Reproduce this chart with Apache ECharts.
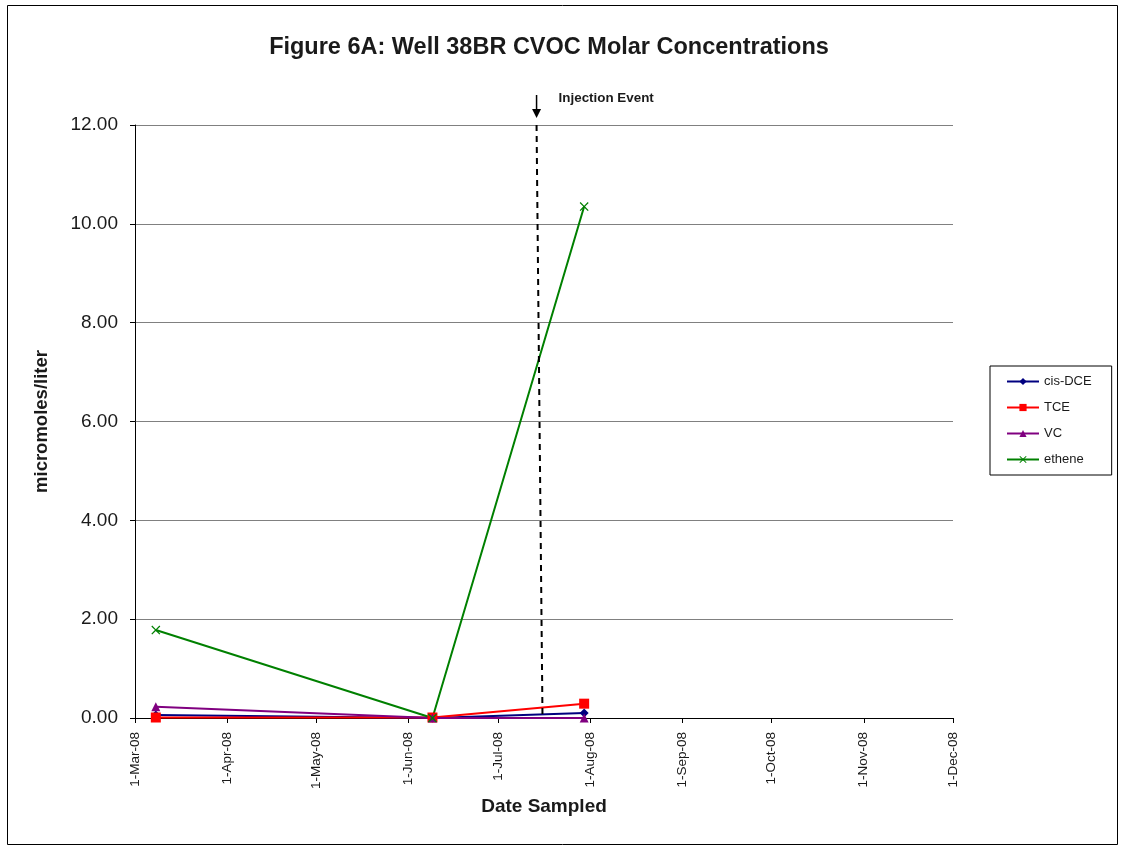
<!DOCTYPE html>
<html><head><meta charset="utf-8">
<script src="https://cdn.jsdelivr.net/npm/echarts@6/dist/echarts.min.js"></script>
<style>html,body{margin:0;padding:0;background:#fff}#c{width:1125px;height:849px}</style>
</head><body><div id="c"></div>
<script>
const dates = ['2008-03-08', '2008-06-09', '2008-07-30'];
const cisDCE = [0.06, 0.0, 0.10];
const TCE = [0.01, 0.01, 0.29];
const VC = [0.23, 0.0, 0.0];
const ethene = [1.78, 0.0, 10.35];
const tickDates = ['2008-03-01','2008-04-01','2008-05-01','2008-06-01','2008-07-01','2008-08-01','2008-09-01','2008-10-01','2008-11-01','2008-12-01'];
const injectionTop = ['2008-07-14', 12];
const injectionBottom = ['2008-07-16', 0];
const injectionLabel = 'Injection Event';
const months = ['Jan','Feb','Mar','Apr','May','Jun','Jul','Aug','Sep','Oct','Nov','Dec'];

const DAY = 86400000;
const parse = s => { const [y,m,d] = s.split('-').map(Number); return Date.UTC(y, m-1, d) / DAY; };
const tickVals = tickDates.map(parse);
const pair = arr => dates.map((d,i) => [parse(d), arr[i]]);
const xMark = 'path://M0,1L1,0L5,4L9,0L10,1L6,5L10,9L9,10L5,6L1,10L0,9L4,5Z';
const TXT = '#1a1a1a';

const chart = echarts.init(document.getElementById('c'));
const mk = (name, data, color, symbol, size) => ({
  name, type: 'line', data: pair(data), symbol, symbolSize: size,
  lineStyle: {color, width: 2}, itemStyle: {color}, showAllSymbol: true, clip: false
});
const ethSeries = mk('ethene', ethene, '#008000', xMark, 9);
ethSeries.markLine = {
  silent: true, symbol: ['none','none'], label: {show: false},
  lineStyle: {color: '#000', type: [6,5], width: 2},
  data: [
    [{coord: [parse(injectionTop[0]), injectionTop[1]]}, {coord: [parse(injectionBottom[0]), injectionBottom[1]]}]
  ]
};

chart.setOption({
  animation: false,
  backgroundColor: '#fff',
  title: {text: 'Figure 6A: Well 38BR CVOC Molar Concentrations', left: 544, top: 31, textAlign: 'center',
    textStyle: {fontFamily: 'Liberation Sans', fontSize: 23.5, fontWeight: 'bold', color: TXT}},
  legend: {
    orient: 'vertical', left: 990, top: 366, width: 120,
    data: ['cis-DCE','TCE','VC','ethene'],
    itemWidth: 32, itemHeight: 9, itemGap: 13,
    padding: [9, 20, 9, 16],
    borderColor: '#000', borderWidth: 1,
    textStyle: {fontFamily: 'Liberation Sans', fontSize: 13, color: TXT}
  },
  grid: {left: 135, right: 172, top: 125, bottom: 131, containLabel: false},
  xAxis: {
    type: 'value', min: tickVals[0], max: tickVals[tickVals.length-1],
    name: 'Date Sampled', nameLocation: 'middle', nameGap: 78,
    nameTextStyle: {fontFamily: 'Liberation Sans', fontSize: 19, fontWeight: 'bold', color: TXT},
    axisLine: {lineStyle: {color: '#000', width: 1}},
    axisTick: {show: true, customValues: tickVals, length: 5, lineStyle: {color: '#000'}},
    splitLine: {show: false},
    axisLabel: {customValues: tickVals, rotate: 90, fontFamily: 'Liberation Sans', fontSize: 13.5, color: TXT, margin: 14,
      formatter: v => { const d = new Date(Math.round(v) * DAY); return d.getUTCDate() + '-' + months[d.getUTCMonth()] + '-08'; }}
  },
  yAxis: {
    type: 'value', min: 0, max: 12, interval: 2,
    name: 'micromoles/liter', nameLocation: 'middle', nameGap: 84,
    nameTextStyle: {fontFamily: 'Liberation Sans', fontSize: 18.5, fontWeight: 'bold', color: TXT},
    axisLine: {show: true, lineStyle: {color: '#000'}},
    axisTick: {show: true, length: 5, lineStyle: {color: '#000'}},
    splitLine: {lineStyle: {color: '#808080', width: 1}},
    axisLabel: {fontFamily: 'Liberation Sans', fontSize: 19, color: TXT, margin: 17, formatter: v => v.toFixed(2)}
  },
  series: [
    mk('cis-DCE', cisDCE, '#000080', 'diamond', 9),
    mk('TCE', TCE, '#FF0000', 'rect', 10),
    mk('VC', VC, '#800080', 'triangle', 9),
    ethSeries
  ]
});

// Arrow and label above the plot, positioned via the chart's scales
const injPt = chart.convertToPixel({gridIndex: 0}, [parse(injectionTop[0]), injectionTop[1]]);
chart.setOption({
  graphic: [
    {type: 'rect', shape: {x: 7.5, y: 5.5, width: 1110, height: 839}, style: {fill: 'none', stroke: '#000', lineWidth: 1}, silent: true},
    {type: 'line', shape: {x1: injPt[0], y1: injPt[1] - 30, x2: injPt[0], y2: injPt[1] - 14}, style: {stroke: '#000', lineWidth: 1.5}},
    {type: 'polygon', shape: {points: [[injPt[0] - 4.5, injPt[1] - 16], [injPt[0] + 4.5, injPt[1] - 16], [injPt[0], injPt[1] - 7]]}, style: {fill: '#000'}},
    {type: 'text', x: injPt[0] + 22, y: injPt[1] - 33, style: {text: injectionLabel, font: 'bold 13.4px "Liberation Sans"', fill: TXT}}
  ]
});
</script></body></html>
